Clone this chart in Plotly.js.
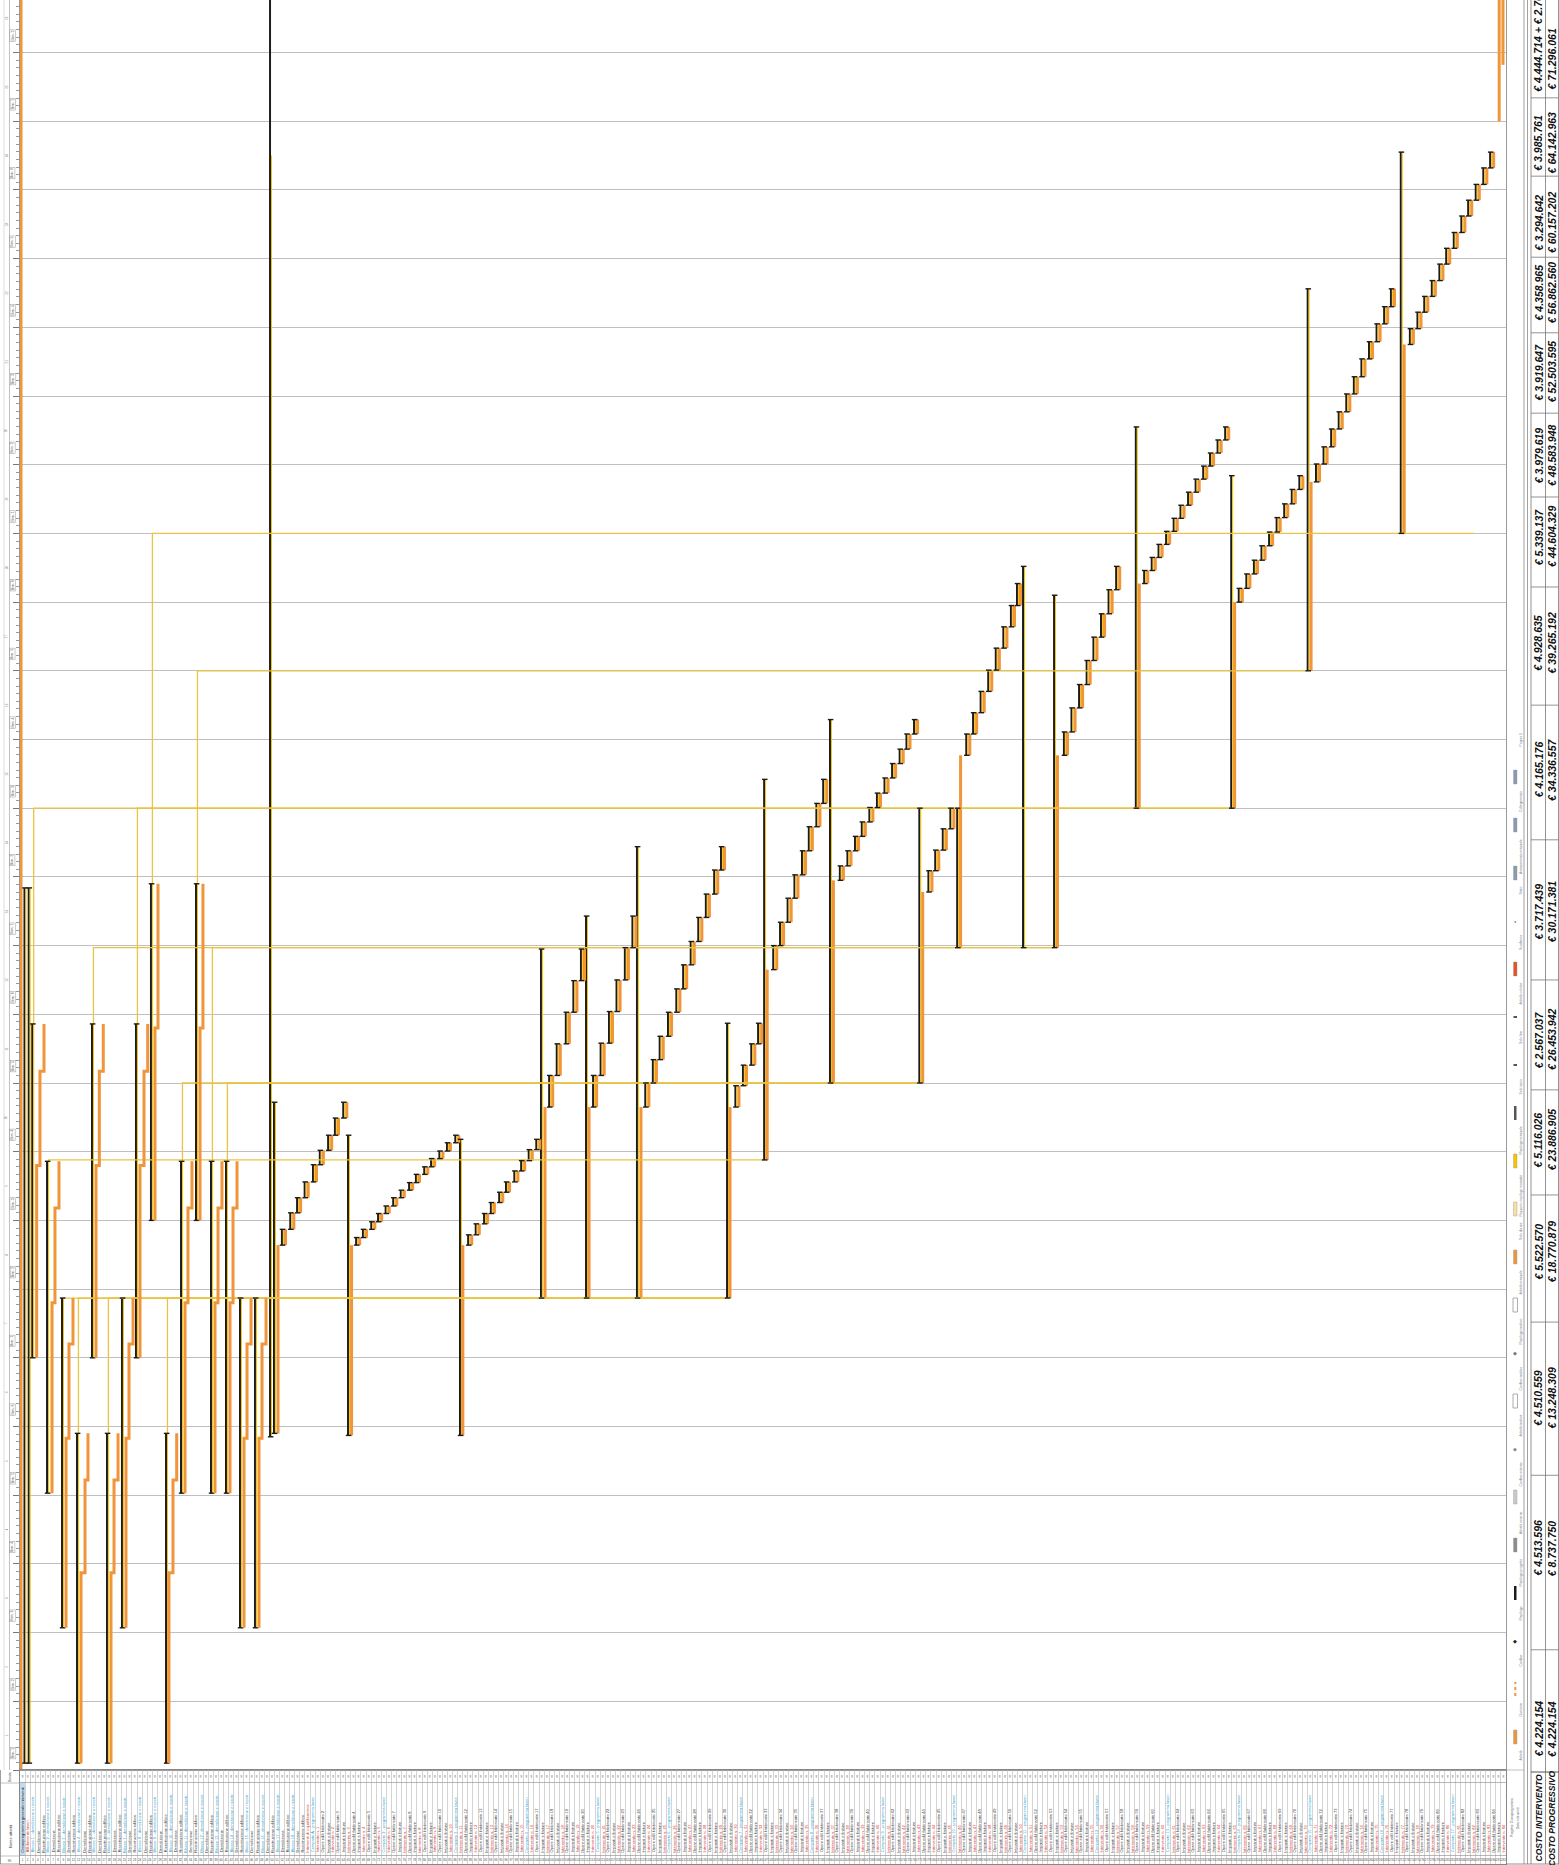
<!DOCTYPE html>
<html><head><meta charset="utf-8">
<script src="https://cdn.plot.ly/plotly-3.0.1.min.js"></script>
<style>html,body{margin:0;padding:0;background:#fff}#chart{width:1559px;height:1865px}</style>
</head><body><div id="chart"></div>
<script>
// ================= DATA =================
// time unit = one grid period (bottom = project start); x unit = one task slot
const summaryP = [0.59,1.15,1.62,3.57,5.55,7.53,9.51,11.49,13.47,15.32,17.3,19.29,21.27,23.25,25.23,27.21,29.06,31.04,33.03,33.55,43.33,58.12,68.82,74.77,81.5,93.4,98.3,107.0,118.8,123.8,132.5,136.6,147.4,160.0,170.1,182.4];
const summaryStart = [0.1,0.1,6.0,4.03,2.07,0.1,6.0,0.1,2.07,6.0,8.0,0.1,4.03,8.0,4.03,4.03,2.07,2.07,4.85,4.9,4.87,4.87,6.87,6.87,6.87,6.87,8.88,10.0,10.0,11.97,11.97,11.97,14.0,14.0,16.0,18.0];
const summaryEnd = [12.84,12.84,10.86,8.86,6.87,4.9,10.86,4.9,6.87,10.86,12.9,4.9,8.86,12.9,8.86,8.86,6.87,6.87,26.5,9.72,9.24,9.18,11.95,12.43,13.44,10.87,14.42,15.29,14.0,14.0,17.52,17.1,19.55,18.84,21.56,23.55];
const summaryYellowEnd = [12.84,12.84,10.86,8.86,6.87,4.9,10.86,4.9,6.87,10.86,12.9,4.9,8.86,12.9,8.86,8.86,6.87,6.87,23.5,9.72,9.24,9.18,11.95,12.43,13.44,10.87,14.42,15.29,14.0,14.0,17.52,17.1,19.55,18.84,21.56,23.55];

const chainGroup = [1,1,1,2,2,2,3,3,3,4,4,4,5,5,5,6,6,6,7,7,7,8,8,8,9,9,10,10,10,11,11,11,12,12,13,13,13,14,14,14,15,15,15,16,16,16];
const chainP = [2.2,2.64,3.17, 4.23,4.62,5.15, 6.08,6.47,7.0, 8.06,8.59,8.98, 10.04,10.48,11.0, 12.02,12.42,12.95, 14.0,14.4,14.93, 15.85,16.38,16.87, 17.83,18.23, 19.68,20.21,20.7, 21.8,22.19,22.72, 23.78,24.17, 25.76,26.16,26.68, 27.74,28.14,28.67, 29.59,29.99,30.52, 31.57,31.97,32.5];
const chainStart = [6.0,8.8,10.17, 4.03,6.8,8.18, 2.07,4.83,6.2, 0.1,2.87,4.22, 6.0,8.8,10.17, 0.1,2.87,4.22, 2.07,4.83,6.2, 6.0,8.8,10.17, 8.0,10.8, 0.1,2.87,4.22, 4.03,6.8,8.18, 8.0,10.8, 4.03,6.8,8.18, 4.03,6.8,8.18, 2.07,4.83,6.2, 2.07,4.83,6.2];
const chainEnd = [8.8,10.17,10.86, 6.8,8.18,8.86, 4.83,6.2,6.87, 2.87,4.22,4.9, 8.8,10.17,10.86, 2.87,4.22,4.9, 4.83,6.2,6.87, 8.8,10.17,10.86, 10.8,12.9, 2.87,4.22,4.9, 6.8,8.18,8.86, 10.8,12.9, 6.8,8.18,8.86, 6.8,8.18,8.86, 4.83,6.2,6.87, 4.83,6.2,6.87];

const longP = [0.13,34.08,43.8,58.5,69.35,75.17,82.03,93.79,98.7,107.45,119.25,124.25,137.05,147.85,160.45,170.55,182.85,195.4,195.9];
const longStart = [0.0,4.9,4.87,4.87,6.87,6.87,6.87,6.87,8.88,10.0,10.0,11.97,11.97,14.0,14.0,16.0,18.0,24.0,24.82];
const longEnd = [26.5,7.64,7.64,7.64,9.65,9.65,9.65,9.65,11.65,12.95,12.78,14.77,14.77,17.27,17.0,18.75,20.75,26.5,26.5];

const stepP = [
 34.6,35.7,36.6,37.6,38.7,39.6,40.7,41.6,42.7,
 44.4,45.3,46.4,47.3,48.3,49.3,50.3,51.4,52.3,53.4,54.3,55.4,56.4,57.5,
 59.2,60.2,61.3,62.2,63.3,64.2,65.3,66.2,67.2,68.2,
 69.9,70.9,72.1,73.1,74.1,
 75.7,76.7,77.8,78.8,79.9,80.9,
 82.6,83.6,84.5,85.6,86.7,87.6,88.6,89.6,90.6,91.7,92.6,
 94.5,95.5,96.6,97.5,
 99.5,100.4,101.4,102.3,103.3,104.2,105.2,106.1,
 108.3,109.3,110.3,111.2,112.2,113.2,114.2,115.2,116.2,117.1,118.1,
 120.0,120.9,121.9,122.9,
 125.0,125.9,126.9,127.9,128.9,129.9,130.9,131.7,
 137.9,138.9,139.9,140.9,141.8,142.8,143.8,144.8,
 148.5,149.5,150.4,151.4,152.4,153.3,154.3,155.3,156.3,157.2,158.2,159.2,
 161.0,162.0,163.0,164.0,165.0,166.0,167.0,168.0,169.0,
 171.2,172.2,173.2,174.2,175.2,176.2,177.2,178.2,179.2,180.2,181.1,
 183.6,184.6,185.5,186.5,187.5,188.4,189.4,190.4,191.3,192.3,193.3,194.2];
const stepStart = [
 7.64,7.87,8.11,8.33,8.56,8.81,9.02,9.24,9.49,
 7.64,7.75,7.87,7.98,8.10,8.21,8.33,8.44,8.55,8.67,8.78,8.90,9.01,9.13,
 7.64,7.79,7.95,8.10,8.26,8.41,8.56,8.72,8.87,9.03,
 9.65,10.11,10.57,11.03,11.49,
 9.65,10.11,10.58,11.04,11.50,11.97,
 9.65,10.0,10.34,10.68,11.03,11.37,11.72,12.06,12.41,12.75,13.10,
 9.65,9.96,10.26,10.57,
 11.65,12.0,12.34,12.69,13.03,13.38,13.73,14.07,
 12.95,13.16,13.38,13.59,13.80,14.01,14.22,14.44,14.65,14.86,15.08,
 12.78,13.09,13.39,13.70,
 14.77,15.08,15.39,15.70,16.01,16.33,16.64,16.95,
 14.77,15.11,15.46,15.80,16.15,16.49,16.83,17.18,
 17.27,17.46,17.65,17.84,18.03,18.22,18.41,18.60,18.79,18.98,19.17,19.36,
 17.0,17.2,17.41,17.61,17.82,18.02,18.23,18.43,18.64,
 18.75,19.01,19.26,19.52,19.77,20.03,20.28,20.54,20.79,21.05,21.30,
 20.75,20.98,21.22,21.45,21.68,21.92,22.15,22.38,22.62,22.85,23.08,23.32];
const stepEnd = [
 7.87,8.11,8.33,8.56,8.81,9.02,9.24,9.49,9.72,
 7.75,7.87,7.98,8.10,8.21,8.33,8.44,8.55,8.67,8.78,8.90,9.01,9.13,9.24,
 7.79,7.95,8.10,8.26,8.41,8.56,8.72,8.87,9.03,9.18,
 10.11,10.57,11.03,11.49,11.95,
 10.11,10.58,11.04,11.50,11.97,12.43,
 10.0,10.34,10.68,11.03,11.37,11.72,12.06,12.41,12.75,13.10,13.44,
 9.96,10.26,10.57,10.87,
 12.0,12.34,12.69,13.03,13.38,13.73,14.07,14.42,
 13.16,13.38,13.59,13.80,14.01,14.22,14.44,14.65,14.86,15.08,15.29,
 13.09,13.39,13.70,14.0,
 15.08,15.39,15.70,16.01,16.33,16.64,16.95,17.27,
 15.11,15.46,15.80,16.15,16.49,16.83,17.18,17.52,
 17.46,17.65,17.84,18.03,18.22,18.41,18.60,18.79,18.98,19.17,19.36,19.55,
 17.2,17.41,17.61,17.82,18.02,18.23,18.43,18.64,18.84,
 19.01,19.26,19.52,19.77,20.03,20.28,20.54,20.79,21.05,21.30,21.56,
 20.98,21.22,21.45,21.68,21.92,22.15,22.38,22.62,22.85,23.08,23.32,23.55];

// links (predecessor finish -> successor start)
const linkFromP = [1.62,9.51,15.32,17.3,21.27,23.25,25.23,27.21,3.57,5.55,7.53,11.49,19.29];
const linkFromU = [10.86,10.86,10.86,12.9,8.86,12.9,8.86,8.86,8.86,6.87,4.9,4.9,4.9];
const linkToU   = [14.0,11.97,14.0,18.0,10.0,16.0,11.97,10.0,8.88,6.87,6.87,6.87,6.87];
const linkToP   = [160.0,136.6,160.0,192.2,118.8,170.1,136.6,118.8,98.3,93.4,93.4,93.4,93.4];

// cost table
const costIntervento = ["€ 4.224.154","€ 4.513.596","€ 4.510.559","€ 5.522.570","€ 5.116.026","€ 2.567.037","€ 3.717.439","€ 4.165.176","€ 4.928.635","€ 5.339.137","€ 3.979.619","€ 3.919.647","€ 4.358.965","€ 3.294.642","€ 3.985.761","€ 4.444.714 + € 2.708.384"];
const costProgressivo = ["€ 4.224.154","€ 8.737.750","€ 13.248.309","€ 18.770.879","€ 23.886.905","€ 26.453.942","€ 30.171.381","€ 34.336.557","€ 39.265.192","€ 44.604.329","€ 48.583.948","€ 52.503.595","€ 56.862.560","€ 60.157.202","€ 64.142.963","€ 71.296.061"];
const costCenterU = [0.6,3.23,5.41,7.54,9.17,10.63,12.49,14.56,16.40,17.95,19.13,20.35,21.50,22.52,23.68,24.9];
const costBoundU = [0,1.75,4.29,6.52,8.37,9.90,11.50,13.54,15.50,17.22,18.53,19.75,20.92,22.02,23.2,24.34];

const periodLabels = ["Bim. 1","Bim. 2","Bim. 3","Bim. 4","Bim. 5","Bim. 6","Bim. 1","Bim. 2","Bim. 3","Bim. 4","Bim. 5","Bim. 6","Bim. 1","Bim. 2","Bim. 3","Bim. 4","Bim. 5","Bim. 6","Bim. 1","Bim. 2","Bim. 3","Bim. 4","Bim. 5","Bim. 6","Bim. 1","Bim. 2"];

const legendLabels = ["Attività","Divisione","Cardine","Riepilogo","Riepilogo progetto","Attività esterne","Cardine esterno","Attività inattiva","Cardine inattivo","Riepilogo inattivo","Attività manuale","Solo durata","Rapporto riepilogo manuale","Riepilogo manuale","Solo inizio","Solo fine","Attività critiche","Scadenza","Stato","Avanzamento manuale","Collegamento"];
const legendKinds = ["bar","dotted","diamond","bracket","bar","bar","diamond","box","diamond","box","bar","bar","bar","bracket","tick","tick","bar","dot","bar","bar","bar"];
const legendColors = ["#f0953a","#f0953a","#1b1b1b","#1b1b1b","#8c8c8c","#c9c9c9","#8c8c8c","#ffffff","#aaaaaa","#ffffff","#f0953a","#f7dfa0","#f5c400","#555555","#1b1b1b","#1b1b1b","#e8501c","#2e9e3a","#8a9ab0","#8a9ab0","#8a9ab0"];

// ================= RENDER =================
const W=1559,H=1865;
const X=px=>px/W, Y=px=>1-px/H;
const FF='Liberation Sans, Arial, sans-serif';
const ORANGE='#f0953a', BLACK='#1b1b1b', GOLD='#f5c400', LINK='#e8c444';

const traces=[];
let lx=[],ly=[];
for(let i=0;i<linkFromP.length;i++){
  lx.push(linkFromP[i]+0.19,linkFromP[i]+0.19,linkToP[i]-0.12,null);
  ly.push(linkFromU[i],linkToU[i],linkToU[i],null);
}
traces.push({type:'scatter',mode:'lines',x:lx,y:ly,line:{color:LINK,width:1.3},hoverinfo:'skip'});

const bX=summaryP.concat(stepP), bS=summaryStart.concat(stepStart), bE=summaryEnd.concat(stepEnd);
const yE=summaryYellowEnd.concat(stepEnd);
traces.push({type:'bar',x:bX,base:bS,y:bE.map((e,i)=>e-bS[i]),width:0.26,offset:-0.13,marker:{color:BLACK,line:{width:0}},hoverinfo:'skip'});
traces.push({type:'bar',x:bX,base:bS,y:yE.map((e,i)=>e-bS[i]),width:0.13,offset:0.13,marker:{color:GOLD,line:{width:0}},hoverinfo:'skip'});
traces.push({type:'bar',x:longP,base:longStart,y:longEnd.map((e,i)=>e-longStart[i]),width:0.4,offset:-0.2,marker:{color:ORANGE,line:{width:0}},hoverinfo:'skip'});
traces.push({type:'bar',x:stepP,base:stepStart,y:stepEnd.map((e,i)=>e-stepStart[i]),width:0.4,offset:0.27,marker:{color:ORANGE,line:{width:0}},hoverinfo:'skip'});
const cx=[],cy=[];
bX.forEach((p,i)=>{cx.push(p+0.08,p+0.08);cy.push(bS[i],bE[i]);});
traces.push({type:'scatter',mode:'markers',x:cx,y:cy,marker:{symbol:'line-ew',size:4,line:{color:BLACK,width:1.4}},hoverinfo:'skip'});
let ox=[],oy=[];
for(let i=0;i<chainP.length;i++){
  if(i>0 && chainGroup[i]!==chainGroup[i-1]){ox.push(null);oy.push(null);}
  ox.push(chainP[i],chainP[i]); oy.push(chainStart[i],chainEnd[i]);
}
traces.push({type:'scatter',mode:'lines',x:ox,y:oy,line:{color:ORANGE,width:3},hoverinfo:'skip'});

// ---- table (bottom) ----
const nCols=292;
const names=[],kinds=[];
names.push('Cronoprogramma generale interventi');kinds.push('head');
names.push('Affidamento lavori');kinds.push('red');
for(let g=1;g<=18;g++){names.push('Blocco '+g+' - demolizione e ricostr.');kinds.push('blue');names.push('Demolizione');kinds.push('black');names.push('Ricostruzione edificio');kinds.push('black');}
names.push('Interventi di riqualificazione');kinds.push('red');
names.push('Comparto A - programma lavori');kinds.push('blue');
let kInt=1,kComp=1;
while(names.length<nCols){
  const r=(names.length-58)%14;
  if(r===13){names.push('Comparto '+(++kComp)+' - programma lavori');kinds.push('blue');}
  else if(r%3===0){names.push('Intervento n. '+(kInt++));kinds.push('red');}
  else if(r%3===1){names.push('Opere edili fabbricato '+kInt);kinds.push('black');}
  else {names.push('Impianti e finiture');kinds.push('black');}
}
const ids=[],idx=[];
for(let c=0;c<nCols;c++){idx.push(c+0.5);ids.push(String(c+1));}
traces.push({type:'scatter',mode:'text',x:idx,y:ids.map(()=>0.043),text:ids,textfont:{size:3,color:'#444',family:FF},xaxis:'x2',yaxis:'y2',hoverinfo:'skip'});
traces.push({type:'scatter',mode:'text',x:idx,y:ids.map(()=>0.935),text:ids.map(()=>'g'),textfont:{size:3,color:'#666',family:FF},xaxis:'x2',yaxis:'y2',hoverinfo:'skip'});

const shapes=[],ann=[];
function A(o){ann.push(Object.assign({xanchor:'center',yanchor:'middle',showarrow:false},o));}
const colMap={head:'#111',red:'#d9302c',blue:'#1aa3d9',black:'#333'};
names.forEach((n,c)=>{
  A({xref:'x2',yref:'y2',x:c+0.5,y:0.1,text:n,textangle:-90,yanchor:'bottom',font:{size:4,color:colMap[kinds[c]],family:FF}});
});
shapes.push({type:'rect',xref:'x2',yref:'y2',x0:0,x1:1,y0:0.087,y1:0.868,fillcolor:'#c5dcf0',line:{width:0},layer:'below'});

function vline(x,y0,y1,c,w){shapes.push({type:'line',xref:'paper',yref:'paper',x0:X(x),x1:X(x),y0:Y(y0),y1:Y(y1),line:{color:c,width:w}});}
function hline(x0,x1,y,c,w){shapes.push({type:'line',xref:'paper',yref:'paper',x0:X(x0),x1:X(x1),y0:Y(y),y1:Y(y),line:{color:c,width:w}});}

vline(0.5,1770,1864,'#888',0.8);
hline(0,20,1783,'#999',0.6);hline(0,20,1856,'#999',0.6);hline(0,20,1864,'#888',0.8);
A({xref:'paper',yref:'paper',x:X(10),y:Y(1850),text:'Nome attività',textangle:-90,yanchor:'bottom',font:{size:4,color:'#333',family:FF}});
A({xref:'paper',yref:'paper',x:X(10),y:Y(1777),text:'Durata',textangle:-90,font:{size:3.2,color:'#333',family:FF}});
A({xref:'paper',yref:'paper',x:X(10),y:Y(1860),text:'ID',textangle:-90,font:{size:3,color:'#333',family:FF}});

vline(9.5,0,1770,'#999',0.6);
vline(4,0,1770,'#bbb',0.5);
periodLabels.forEach((t,i)=>{
  A({xref:'paper',yref:'y',x:X(12.6),y:i+0.24,text:t,textangle:-90,font:{size:3.6,color:'#555',family:FF},bordercolor:'#999',borderwidth:0.5,borderpad:0.5});
  A({xref:'paper',yref:'y',x:X(6.8),y:i+0.5,text:String(i+1),textangle:-90,font:{size:3,color:'#777',family:FF}});
});

vline(1524,0,1864,'#888',0.8);
vline(1527.5,0,1864,'#888',0.8);
hline(1506,1524,1770,'#999',0.6);
const legendPosPx=[1745,1697,1649,1601,1553,1505,1457,1409,1361,1313,1265,1217,1169,1121,1073,1025,977,929,881,833,785];
legendLabels.forEach((lab,i)=>{
  const py=legendPosPx[i];
  const k=legendKinds[i],c=legendColors[i],top=py-15,bot=py-1;
  if(k==='bar') shapes.push({type:'rect',xref:'paper',yref:'paper',x0:X(1513.5),x1:X(1517),y0:Y(bot),y1:Y(top),fillcolor:c,line:{width:0.4,color:'#999'}});
  else if(k==='box') shapes.push({type:'rect',xref:'paper',yref:'paper',x0:X(1513),x1:X(1517.5),y0:Y(bot),y1:Y(top),fillcolor:'#fff',line:{width:0.6,color:'#777'}});
  else if(k==='bracket'){shapes.push({type:'rect',xref:'paper',yref:'paper',x0:X(1514),x1:X(1516.5),y0:Y(bot),y1:Y(top),fillcolor:c,line:{width:0}});}
  else if(k==='dotted') shapes.push({type:'line',xref:'paper',yref:'paper',x0:X(1515.3),x1:X(1515.3),y0:Y(bot),y1:Y(top),line:{color:c,width:2,dash:'dot'}});
  else if(k==='diamond') A({xref:'paper',yref:'paper',x:X(1515.3),y:Y(py-8),text:'◆',font:{size:5,color:c==='#aaaaaa'?'#777':c}});
  else if(k==='tick') shapes.push({type:'line',xref:'paper',yref:'paper',x0:X(1513.5),x1:X(1517),y0:Y(py-8),y1:Y(py-8),line:{color:c,width:1.5}});
  else if(k==='dot') A({xref:'paper',yref:'paper',x:X(1515.3),y:Y(py-8),text:'●',font:{size:4,color:c}});
  A({xref:'paper',yref:'paper',x:X(1520.5),y:Y(py+4),text:lab,textangle:-90,yanchor:'top',font:{size:3.4,color:'#777',family:FF}});
});
A({xref:'paper',yref:'paper',x:X(1520.5),y:Y(740),text:'Pagina 1',textangle:-90,font:{size:3.4,color:'#888',family:FF}});
A({xref:'paper',yref:'paper',x:X(1512),y:Y(1818),text:'Progetto: Cronoprogramma',textangle:-90,font:{size:3.2,color:'#555',family:FF}});
A({xref:'paper',yref:'paper',x:X(1518),y:Y(1818),text:'Data: interventi',textangle:-90,font:{size:3.2,color:'#555',family:FF}});

vline(1531,0,1864,'#777',0.8);
vline(1545.5,0,1864,'#777',0.8);
vline(1558.5,0,1864,'#777',0.8);
hline(1506,1559,1864,'#777',0.8);
hline(1531,1559,1772,'#555',1);
costBoundU.forEach((u,i)=>{ if(i>0) shapes.push({type:'line',xref:'paper',yref:'y',x0:X(1531),x1:X(1558.5),y0:u,y1:u,line:{color:'#777',width:0.8}}); });
const bi=t=>'<b><i>'+t+'</i></b>';
costCenterU.forEach((u,i)=>{
  const last=i===costCenterU.length-1;
  A({xref:'paper',yref:'y',x:X(1538.5),y:last?costBoundU[15]+0.06:u,yanchor:last?'bottom':'middle',text:bi(costIntervento[i]),textangle:-90,font:{size:10.5,color:'#111',family:FF}});
  A({xref:'paper',yref:'y',x:X(1552.2),y:u,text:bi(costProgressivo[i]),textangle:-90,font:{size:10.5,color:'#111',family:FF}});
});
A({xref:'paper',yref:'paper',x:X(1538.5),y:Y(1818),text:bi('COSTO INTERVENTO'),textangle:-90,font:{size:8.5,color:'#111',family:FF}});
A({xref:'paper',yref:'paper',x:X(1552.2),y:Y(1818),text:bi('COSTO PROGRESSIVO'),textangle:-90,font:{size:8.5,color:'#111',family:FF}});

const layout={
  width:W,height:H,margin:{l:0,r:0,t:0,b:0},paper_bgcolor:'#fff',plot_bgcolor:'#fff',
  showlegend:false,barmode:'overlay',font:{family:FF},
  xaxis:{domain:[X(20),X(1506)],range:[0,196.3],showgrid:false,zeroline:false,showticklabels:false,ticks:'',showline:true,mirror:true,linecolor:'#999',linewidth:1,fixedrange:true},
  yaxis:{domain:[Y(1770),1],range:[0,1770/68.7],dtick:1,tick0:0,showgrid:true,gridcolor:'#c0c0c0',gridwidth:1,zeroline:false,showticklabels:false,ticks:'outside',ticklen:6,tickcolor:'#777',showline:true,mirror:true,linecolor:'#999',linewidth:1,
    minor:{dtick:1/9,tick0:0,ticks:'outside',ticklen:3,tickcolor:'#999',showgrid:false},fixedrange:true},
  xaxis2:{domain:[X(20),X(1506)],range:[0,nCols],anchor:'y2',dtick:1,tick0:0,showgrid:true,gridcolor:'#b8b8b8',gridwidth:0.6,zeroline:false,showticklabels:false,ticks:'',showline:true,mirror:true,linecolor:'#888'},
  yaxis2:{domain:[Y(1864),Y(1770)],range:[0,1],anchor:'x2',tickvals:[0.087,0.868],showgrid:true,gridcolor:'#999',gridwidth:0.7,zeroline:false,showticklabels:false,ticks:'',showline:true,mirror:true,linecolor:'#888'},
  shapes:shapes,annotations:ann
};
Plotly.newPlot('chart',traces,layout,{staticPlot:true,displayModeBar:false});
</script>
</body></html>
